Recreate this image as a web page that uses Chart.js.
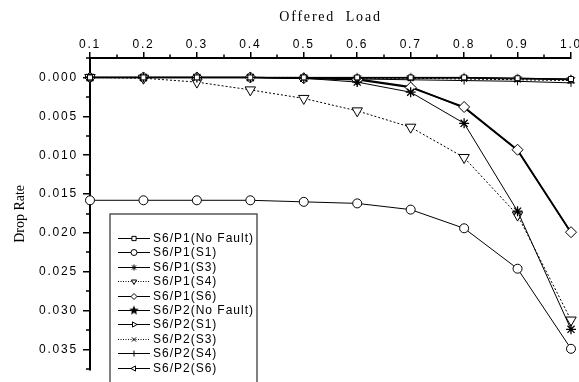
<!DOCTYPE html>
<html>
<head>
<meta charset="utf-8">
<script src="https://cdn.jsdelivr.net/npm/chart.js@4.4.1/dist/chart.umd.min.js"></script>
<style>
  html, body { margin: 0; background: #fff; }
  #frame { width: 579px; height: 382px; overflow: hidden; }
  #box { width: 610px; height: 382px; position: relative; }
</style>
</head>
<body>
<div id="frame"><div id="box"><canvas id="drop"></canvas></div></div>
<script>
// offered load on the (top) x axis, drop rate on the reversed y axis
const loads = [0.1, 0.2, 0.3, 0.4, 0.5, 0.6, 0.7, 0.8, 0.9, 1.0];
const loadTicks = [0.1, 0.2, 0.3, 0.4, 0.5, 0.6, 0.7, 0.8, 0.9, 1.0];
const rateTicks = [0, 0.005, 0.010, 0.015, 0.020, 0.025, 0.030, 0.035];

const p1NoFault = [0, 0, 0, 0, 0, 0, 0, 0, 0.0001, 0.0002];
const p1S1 = [0.0158, 0.0158, 0.0158, 0.0158, 0.0160, 0.0162, 0.0170, 0.0194, 0.0246, 0.0349];
const p1S3 = [0, 0, 0, 0, 0.0001, 0.0006, 0.0019, 0.0059, 0.0172, 0.0324];
const p1S4 = [0, 0.0001, 0.0006, 0.0016, 0.0027, 0.0043, 0.0064, 0.0103, 0.0177, 0.0312];
const p1S6 = [0, 0, 0, 0, 0.0001, 0.0003, 0.0013, 0.0038, 0.0093, 0.0199];
const p2NoFault = [0, 0, 0, 0, 0, 0, 0, 0, 0.0001, 0.0002];
const p2S1 = [0, 0, 0, 0, 0, 0.0001, 0.0001, 0.0001, 0.0002, 0.0003];
const p2S3 = [0, 0, 0, 0, 0, 0.0001, 0.0001, 0.0002, 0.0003, 0.0004];
const p2S4 = [0, 0, 0, 0, 0.0001, 0.0002, 0.0003, 0.0004, 0.0005, 0.0007];
const p2S6 = [0, 0, 0, 0, 0.0001, 0.0002, 0.0012, 0.0039, 0.0094, 0.0200];

// filled five-point star, Chart.js has no such pointStyle
function starImage(r) {
  const c = document.createElement('canvas');
  c.width = c.height = 2 * r + 2;
  const g = c.getContext('2d');
  g.fillStyle = '#000';
  g.beginPath();
  for (let k = 0; k < 10; k++) {
    const a = -Math.PI / 2 + k * Math.PI / 5;
    const rr = k % 2 ? r * 0.45 : r;
    g.lineTo(r + 1 + rr * Math.cos(a), r + 1 + rr * Math.sin(a));
  }
  g.closePath();
  g.fill();
  return c;
}
const star = starImage(5);

function series(label, values, pointStyle, extra) {
  return Object.assign({
    label,
    data: values.map((v, i) => ({ x: loads[i], y: v })),
    borderColor: '#000', borderWidth: 1, tension: 0, clip: false,
    pointStyle, pointRadius: 4, pointBorderWidth: 1,
    pointBorderColor: '#000', pointBackgroundColor: '#fff',
  }, extra || {});
}

const datasets = [
  series('S6/P1(No Fault)', p1NoFault, 'rect', { pointRadius: 3.5 }),
  series('S6/P1(S1)', p1S1, 'circle', { pointRadius: 4.5 }),
  series('S6/P1(S3)', p1S3, 'star', { pointRadius: 5, pointBorderWidth: 1.3 }),
  series('S6/P1(S4)', p1S4, 'triangle', { pointRotation: 180, pointRadius: 6, borderDash: [2, 2] }),
  series('S6/P1(S6)', p1S6, 'rectRot', { borderWidth: 1.5, pointRadius: 5.5 }),
  series('S6/P2(No Fault)', p2NoFault, star),
  series('S6/P2(S1)', p2S1, 'triangle', { pointRotation: 90, pointRadius: 3 }),
  series('S6/P2(S3)', p2S3, 'crossRot', { borderDash: [2, 2] }),
  series('S6/P2(S4)', p2S4, 'cross'),
  series('S6/P2(S6)', p2S6, 'triangle', { pointRotation: -90, pointRadius: 3.5, borderWidth: 1.5 }),
];

// canvas text in the reference is letter-spaced
const spacing = {
  id: 'spacing',
  beforeLayout(chart) { chart.ctx.letterSpacing = '1.8px'; },
  beforeDraw(chart) { chart.ctx.letterSpacing = '1.8px'; },
};

// short unlabeled ticks halfway between the labeled ones
const minorTicks = {
  id: 'minorTicks',
  afterDraw(chart) {
    const { ctx, scales: { x, y }, chartArea } = chart;
    ctx.save();
    ctx.strokeStyle = '#000';
    ctx.lineWidth = 1.5;
    ctx.beginPath();
    for (let i = 0; i < loadTicks.length - 1; i++) {
      const px = Math.round(x.getPixelForValue((loadTicks[i] + loadTicks[i + 1]) / 2));
      ctx.moveTo(px, chartArea.top - 3.5);
      ctx.lineTo(px, chartArea.top);
    }
    const ys = [rateTicks[0] - 0.0025].concat(rateTicks.map((v) => v + 0.0025));
    ys.forEach((v) => {
      const py = Math.round(y.getPixelForValue(v));
      ctx.moveTo(chartArea.left - 4, py);
      ctx.lineTo(chartArea.left, py);
    });
    ctx.stroke();
    ctx.restore();
  },
};

// boxed legend in the lower left of the plot, line sample + marker like the original
const boxLegend = {
  id: 'boxLegend',
  afterDraw(chart, args, o) {
    const ctx = chart.ctx;
    ctx.save();
    ctx.fillStyle = '#fff';
    ctx.strokeStyle = '#555';
    ctx.lineWidth = 1.5;
    ctx.fillRect(o.x, o.y, o.w, o.h);
    ctx.strokeRect(o.x, o.y, o.w, o.h);
    ctx.font = '12px "Liberation Sans", Arial, sans-serif';
    ctx.letterSpacing = '1px';
    ctx.textBaseline = 'middle';
    chart.data.datasets.forEach((ds, i) => {
      const y = Math.round(o.y + o.first + i * o.step) + 0.5;
      ctx.strokeStyle = '#000';
      ctx.lineWidth = 1;
      ctx.setLineDash(ds.borderDash ? [1, 1.5] : []);
      ctx.beginPath();
      ctx.moveTo(o.x + 8, y);
      ctx.lineTo(o.x + 40, y);
      ctx.stroke();
      ctx.setLineDash([]);
      ctx.fillStyle = '#fff';
      Chart.helpers.drawPoint(ctx, {
        pointStyle: ds.pointStyle, rotation: ds.pointRotation || 0,
        radius: 3, borderWidth: 1,
      }, o.x + 24, y);
      ctx.fillStyle = '#000';
      ctx.fillText(ds.label, o.x + 43, y + 0.5);
    });
    ctx.restore();
  },
};

const tickFont = { family: '"Liberation Sans", Arial, sans-serif', size: 12 };
const titleFont = { family: '"Liberation Serif", "Times New Roman", serif', size: 14 };

new Chart(document.getElementById('drop'), {
  type: 'line',
  data: { datasets },
  plugins: [spacing, minorTicks, boxLegend],
  options: {
    responsive: true, maintainAspectRatio: false, animation: false,
    layout: { padding: { left: 0, top: 0, right: 39, bottom: 0 } },
    plugins: {
      legend: { display: false },
      tooltip: { enabled: false },
      boxLegend: { x: 110, y: 214, w: 147, h: 200, first: 24, step: 14.4 },
    },
    scales: {
      x: {
        type: 'linear', position: 'top', min: 0.1, max: 1.0,
        afterBuildTicks: (s) => { s.ticks = loadTicks.map((v) => ({ value: v })); },
        afterFit: (s) => { s.height = 58; },
        ticks: { callback: (v) => v.toFixed(1), font: tickFont, color: '#000', padding: 0, maxRotation: 0, autoSkip: false },
        grid: { drawOnChartArea: false, tickLength: 6, color: '#000', lineWidth: 1.5 },
        border: { color: '#000', width: 2 },
        title: { display: true, text: 'Offered  Load', font: titleFont, color: '#000', padding: { top: 9, bottom: 0 } },
      },
      y: {
        type: 'linear', reverse: true, min: -0.0025, max: 0.0376,
        afterBuildTicks: (s) => { s.ticks = rateTicks.map((v) => ({ value: v })); },
        afterFit: (s) => {
          s.width = 90;
          // the vertical title is set tight, without the letter spacing
          s.drawTitle = function () {
            const ls = this.ctx.letterSpacing;
            this.ctx.letterSpacing = '0px';
            Chart.Scale.prototype.drawTitle.call(this);
            this.ctx.letterSpacing = ls;
          };
        },
        ticks: { callback: (v) => v.toFixed(3), font: tickFont, color: '#000', padding: 5, autoSkip: false },
        grid: { drawOnChartArea: false, tickLength: 7, color: '#000', lineWidth: 1.5 },
        border: { color: '#000', width: 2 },
        title: { display: true, text: 'Drop Rate', font: titleFont, color: '#000', padding: { top: 12, bottom: 0 } },
      },
    },
  },
});
</script>
</body>
</html>
